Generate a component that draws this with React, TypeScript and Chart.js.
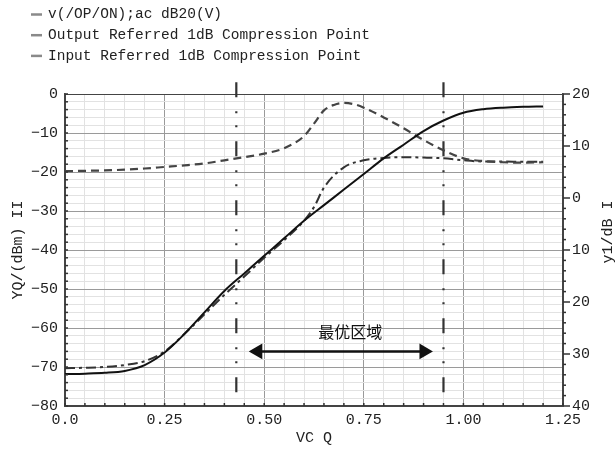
import React, { useEffect, useRef } from 'react';
import { Chart, registerables } from 'chart.js';

Chart.register(...registerables);

// ---- data ----
const gainLabel = 'v(/OP/ON);ac dB20(V)';
const gainX = [0, 0.05, 0.1, 0.15, 0.2, 0.25, 0.3, 0.35, 0.4, 0.45, 0.5, 0.55, 0.6, 0.65, 0.7, 0.75, 0.8, 0.85, 0.9, 0.95, 1.0, 1.05, 1.1, 1.15, 1.2];
const gainY = [-71.8, -71.7, -71.5, -71.0, -69.5, -66.3, -61.5, -56.0, -50.5, -46.0, -41.5, -37.0, -32.5, -28.5, -24.5, -20.5, -16.5, -13.0, -9.5, -6.8, -4.8, -3.9, -3.5, -3.3, -3.2];

const outLabel = 'Output Referred 1dB Compression Point';
const outX = [0, 0.05, 0.1, 0.15, 0.2, 0.25, 0.3, 0.35, 0.4, 0.45, 0.5, 0.55, 0.6, 0.625, 0.65, 0.675, 0.7, 0.725, 0.75, 0.8, 0.85, 0.9, 0.95, 1.0, 1.05, 1.1, 1.15, 1.2];
const outY = [-19.8, -19.7, -19.6, -19.4, -19.1, -18.7, -18.3, -17.8, -17.0, -16.2, -15.3, -13.9, -10.8, -7.6, -4.2, -2.8, -2.3, -2.6, -3.5, -6.0, -8.8, -11.8, -14.4, -16.5, -17.2, -17.5, -17.6, -17.5];

const inLabel = 'Input Referred 1dB Compression Point';
const inX = [0, 0.05, 0.1, 0.15, 0.2, 0.25, 0.3, 0.35, 0.4, 0.45, 0.5, 0.55, 0.6, 0.625, 0.65, 0.7, 0.75, 0.8, 0.85, 0.9, 0.95, 1.0, 1.05, 1.1, 1.15, 1.2];
const inY = [-70.3, -70.2, -70.0, -69.5, -68.5, -66.0, -61.5, -56.5, -51.5, -46.8, -42.0, -37.5, -32.5, -29.0, -24.0, -18.8, -17.0, -16.4, -16.2, -16.3, -16.5, -17.0, -17.3, -17.3, -17.4, -17.4];

const regionBounds = [0.43, 0.95];
const boundSpan = [3, -80];
const arrowX = [0.484, 0.901];
const arrowY = -66;
const regionText = '最优区域';
const regionTextPos = { x: 0.716, y: -61 };

const xTitle = 'VC Q';
const yTitle = 'YQ/(dBm) II';
const y1Title = 'y1/dB I';

const xRange = [0, 1.25];
const yRange = [-80, 0];
const y1Range = [-40, 20];

const FONT = '"Liberation Mono", "DejaVu Sans Mono", monospace';

const near = (v: number, step: number) => Math.abs(v / step - Math.round(v / step)) < 1e-6;
const pts = (xs: number[], ys: number[]) => xs.map((x, i) => ({ x, y: ys[i] }));

const decorPlugin = {
  id: 'decor',
  afterDraw(chart: any) {
    const { ctx, chartArea, scales } = chart;
    const x = scales.x, y = scales.y, y1 = scales.y1;
    ctx.save();
    // tick marks
    ctx.strokeStyle = '#333';
    ctx.lineWidth = 1.5;
    y.ticks.forEach((t: any) => {
      const py = y.getPixelForValue(t.value);
      ctx.beginPath(); ctx.moveTo(chartArea.left, py); ctx.lineTo(chartArea.left + 3, py); ctx.stroke();
    });
    y1.ticks.forEach((t: any) => {
      const py = y1.getPixelForValue(t.value);
      const len = near(t.value, 10) ? 7 : 3;
      ctx.beginPath(); ctx.moveTo(chartArea.right, py); ctx.lineTo(chartArea.right + len, py); ctx.stroke();
    });
    x.ticks.forEach((t: any) => {
      const px = x.getPixelForValue(t.value);
      ctx.beginPath(); ctx.moveTo(px, chartArea.bottom); ctx.lineTo(px, chartArea.bottom - 3); ctx.stroke();
    });
    // region label
    ctx.fillStyle = '#111';
    ctx.font = '16px "Noto Sans CJK SC"';
    ctx.textAlign = 'center';
    ctx.textBaseline = 'middle';
    ctx.fillText(regionText, x.getPixelForValue(regionTextPos.x), y.getPixelForValue(regionTextPos.y));
    // right axis title (reads bottom-to-top)
    ctx.font = `15px ${FONT}`;
    ctx.fillStyle = '#222';
    ctx.translate(chartArea.right + 45, (chartArea.top + chartArea.bottom) / 2 - 18);
    ctx.rotate(-Math.PI / 2);
    ctx.fillText(y1Title, 0, 0);
    ctx.restore();
    // legend
    ctx.save();
    ctx.font = `14.5px ${FONT}`;
    ctx.textBaseline = 'middle';
    ctx.textAlign = 'left';
    chart.data.datasets.slice(0, 3).forEach((ds: any, i: number) => {
      const ly = 14.5 + i * 20.7;
      ctx.strokeStyle = '#8a8a8a';
      ctx.lineWidth = 2.5;
      ctx.beginPath(); ctx.moveTo(31, ly); ctx.lineTo(42, ly); ctx.stroke();
      ctx.fillStyle = '#222';
      ctx.fillText(ds.label, 48, ly);
    });
    ctx.restore();
  },
};

export default function App() {
  const ref = useRef<HTMLCanvasElement>(null);
  useEffect(() => {
    if (!ref.current) return;
    const chart = new Chart(ref.current, {
      type: 'line',
      data: {
        datasets: [
          { label: gainLabel, data: pts(gainX, gainY), borderColor: '#111', borderWidth: 2, pointRadius: 0, cubicInterpolationMode: 'monotone', yAxisID: 'y' },
          { label: outLabel, data: pts(outX, outY), borderColor: '#444', borderWidth: 2.2, borderDash: [8, 5], pointRadius: 0, cubicInterpolationMode: 'monotone', yAxisID: 'y' },
          { label: inLabel, data: pts(inX, inY), borderColor: '#333', borderWidth: 2, borderDash: [10, 4, 3, 4], pointRadius: 0, cubicInterpolationMode: 'monotone', yAxisID: 'y' },
          ...regionBounds.map((b) => ({
            label: 'bound', data: [{ x: b, y: boundSpan[0] }, { x: b, y: boundSpan[1] }], borderColor: '#333', borderWidth: 2.2,
            borderDash: [15, 14, 2, 12, 2, 14], pointRadius: 0, clip: false as any, yAxisID: 'y',
          })),
          {
            label: 'arrow', data: [{ x: arrowX[0], y: arrowY }, { x: arrowX[1], y: arrowY }], borderColor: '#111', borderWidth: 2.5,
            pointStyle: 'triangle', pointRadius: 6.5, pointRotation: [-90, 90] as any, pointBackgroundColor: '#111', pointBorderColor: '#111', yAxisID: 'y',
          },
        ] as any,
      },
      options: {
        animation: false,
        responsive: false,
        layout: { padding: { top: 94, left: 0, right: 0, bottom: 0 } },
        plugins: { legend: { display: false }, tooltip: { enabled: false } },
        font: { family: FONT } as any,
        scales: {
          x: {
            type: 'linear', min: xRange[0], max: xRange[1],
            afterFit: (s: any) => { s.height = 43; },
            ticks: {
              stepSize: 0.05, autoSkip: false, maxRotation: 0, padding: 5, color: '#222',
              font: { family: FONT, size: 15 },
              callback: (v: any) => (near(v, 0.25) ? (v === 0 ? '0.0' : Number(v).toFixed(2)) : ''),
            },
            grid: {
              drawTicks: false,
              color: (c: any) => {
                const v = c.tick?.value; if (v == null) return 'transparent';
                if (near(v, 0.25)) return v === 0 || Math.abs(v - 1.25) < 1e-6 ? '#444' : '#9a9a9a';
                return '#e2e2e2';
              },
            },
            border: { color: '#444', width: 1.5 },
            title: { display: true, text: xTitle, color: '#222', font: { family: FONT, size: 15 }, padding: { top: 0, bottom: 2 } },
          },
          y: {
            type: 'linear', position: 'left', min: yRange[0], max: yRange[1],
            afterFit: (s: any) => { s.width = 65; },
            ticks: {
              stepSize: 2, autoSkip: false, padding: 7, color: '#222',
              font: { family: FONT, size: 15 },
              callback: (v: any) => (near(v, 10) ? (v < 0 ? '\u2212' + Math.abs(v) : String(v)) : ''),
            },
            grid: {
              drawTicks: false,
              color: (c: any) => {
                const v = c.tick?.value; if (v == null) return 'transparent';
                if (near(v, 10)) return v === 0 || v === -80 ? '#444' : '#9a9a9a';
                return '#e2e2e2';
              },
            },
            border: { color: '#444', width: 1.5 },
            title: { display: true, text: yTitle, color: '#222', font: { family: FONT, size: 15 }, padding: { top: 9, bottom: 0 } },
          },
          y1: {
            type: 'linear', position: 'right', min: y1Range[0], max: y1Range[1],
            afterFit: (s: any) => { s.width = 53; },
            ticks: {
              stepSize: 2, autoSkip: false, padding: 9, color: '#222',
              font: { family: FONT, size: 15 },
              callback: (v: any) => (near(v, 10) ? String(Math.abs(v)) : ''),
            },
            grid: { drawOnChartArea: false, drawTicks: false },
            border: { color: '#444', width: 1.5 },
          },
        },
      } as any,
      plugins: [decorPlugin],
    });
    return () => chart.destroy();
  }, []);
  return (
    <div style={{ position: 'absolute', left: 0, top: 0, width: 616, height: 449, background: '#fff' }}>
      <canvas ref={ref} width={616} height={449} style={{ display: 'block' }} />
    </div>
  );
}
